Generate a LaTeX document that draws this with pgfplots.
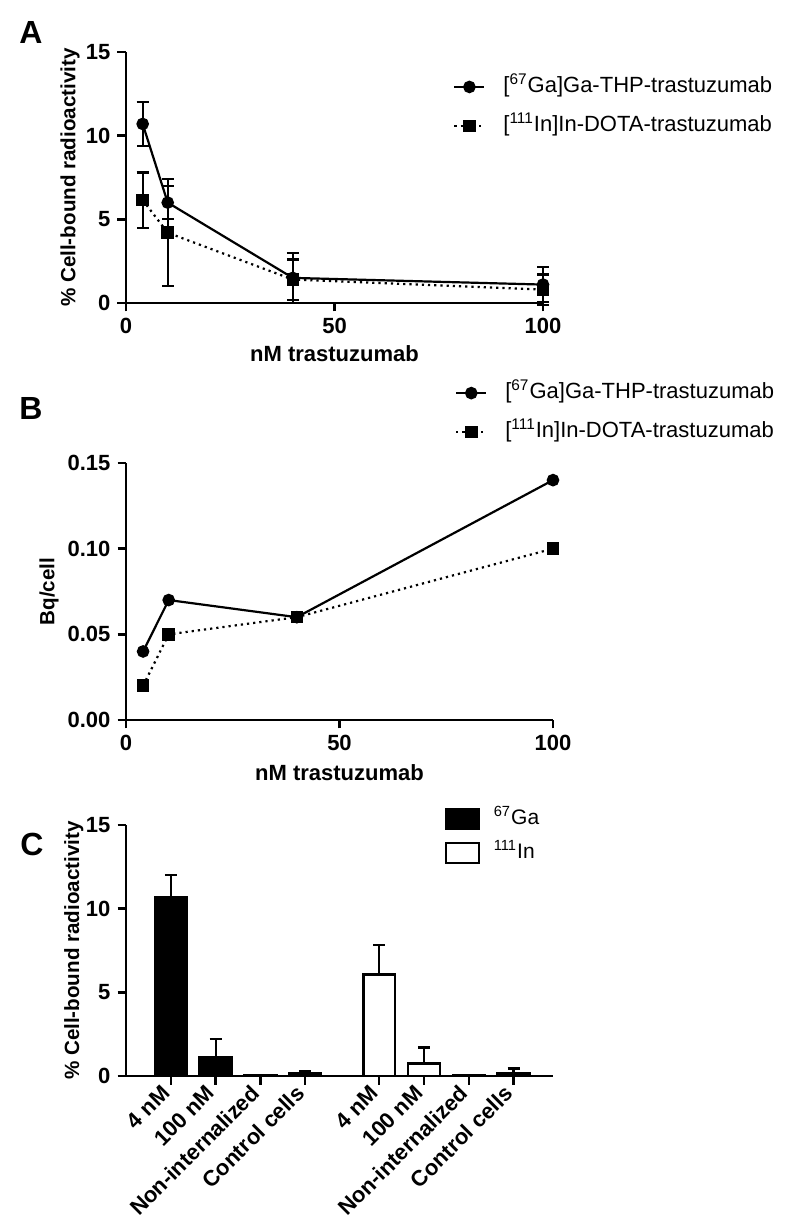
\documentclass[border=0pt]{standalone}
\usepackage{fontspec}
\setmainfont{Liberation Sans}
\usepackage{pgfplots}
\pgfplotsset{compat=1.18}

% Prism-like look shared by the three panels
\pgfplotsset{
  prism/.style={
    scale only axis,
    axis lines=left,
    axis line style={-, line width=1.4pt},
    tick align=outside,
    major tick length=4.25pt,
    tick style={black, line width=1.2pt},
    ticklabel style={font=\fontsize{11}{13}\selectfont\bfseries},
    /pgf/number format/assume math mode=true,
    legend cell align=left,
    legend style={draw=none, fill=none, inner sep=0pt, anchor=west,
      font=\fontsize{11}{13}\selectfont, row sep=7pt,
      nodes={inner sep=1pt, text height=8pt, text depth=2.5pt}},
    clip=false,
  },
  xlab/.style={every axis x label/.style={at={(axis description cs:0.5,#1)}, anchor=center,
      font=\fontsize{11}{13}\selectfont\bfseries}},
  ylab/.style={every axis y label/.style={at={(axis description cs:#1,0.5)}, rotate=90, anchor=center,
      font=\fontsize{10.3}{12}\selectfont\bfseries}},
  lineimg/.style={legend image code/.code={
      \draw[mark repeat=2,mark phase=2,##1] plot coordinates {(0pt,0pt) (7.5pt,0pt) (15pt,0pt)};
      \path[draw=none,fill=none] (0pt,0pt) rectangle (23.5pt,0.1pt);}},
  barimg/.style={legend image code/.code={
      \draw[##1, line width=1.3pt] (0pt,-5pt) rectangle (16.5pt,5pt);
      \path[draw=none,fill=none] (0pt,0pt) rectangle (23pt,0.1pt);}},
  ga/.style={black, line width=1.1pt, mark=*, mark size=2.6pt, mark options={solid}, lineimg},
  in/.style={black, line width=1.1pt, dotted, mark=square*, mark size=2.6pt, mark options={solid}, lineimg},
  ebar/.style={error bars/.cd, y dir=#1, y explicit,
      error bar style={line width=1.1pt, solid},
      error mark options={rotate=90, mark size=3pt, line width=1.1pt, solid}},
}

\begin{document}
\begin{tikzpicture}

% ---------- A ----------
\begin{axis}[prism, at={(63pt,463.5pt)}, width=208.5pt, height=125.5pt,
  xmin=0, xmax=100, ymin=0, ymax=15,
  xtick={0,50,100}, ytick={0,5,10,15},
  xlabel={nM trastuzumab}, ylabel={\% Cell-bound radioactivity},
  xlab=-0.2, ylab=-0.134,
  legend style={at={(0.784,0.783)}}]
\addplot[ga, ebar=both] coordinates {
  (4,10.7) +- (0,1.3) (10,6.0) +- (0,1.0) (40,1.5) +- (0,1.5) (100,1.1) +- (0,1.05)};
\addlegendentry{[\textsuperscript{67}Ga]Ga-THP-trastuzumab}
\addplot[in, ebar=both] coordinates {
  (4,6.15) +- (0,1.65) (10,4.2) +- (0,3.2) (40,1.4) +- (0,1.2) (100,0.8) +- (0,0.9)};
\addlegendentry{[\textsuperscript{111}In]In-DOTA-trastuzumab}
\end{axis}

% ---------- B ----------
\begin{axis}[prism, at={(63pt,255pt)}, width=213.5pt, height=128.5pt,
  xmin=0, xmax=100, ymin=0, ymax=0.15,
  xtick={0,50,100}, ytick={0,0.05,0.10,0.15},
  scaled y ticks=false,
  yticklabel style={/pgf/number format/.cd, fixed, fixed zerofill, precision=2},
  xlabel={nM trastuzumab}, ylabel={Bq/cell},
  xlab=-0.206, ylab=-0.18,
  legend style={at={(0.770,1.196)}}]
\addplot[ga] coordinates {(4,0.04) (10,0.07) (40,0.06) (100,0.14)};
\addlegendentry{[\textsuperscript{67}Ga]Ga-THP-trastuzumab}
\addplot[in] coordinates {(4,0.02) (10,0.05) (40,0.06) (100,0.10)};
\addlegendentry{[\textsuperscript{111}In]In-DOTA-trastuzumab}
\end{axis}

% ---------- C ----------
\begin{axis}[prism, at={(63pt,77pt)}, width=213.5pt, height=125.5pt,
  xmin=0, xmax=9.53, ymin=0, ymax=15,
  ytick={0,5,10,15},
  xtick={1,2,3,4,5.65,6.65,7.65,8.65},
  xticklabels={4 nM,100 nM,Non-internalized,Control cells,4 nM,100 nM,Non-internalized,Control cells},
  xticklabel style={rotate=45, anchor=east},
  ylabel={\% Cell-bound radioactivity}, ylab=-0.122,
  legend style={at={(0.745,0.956)}, row sep=4.5pt, font=\fontsize{10.5}{12}\selectfont}]
\addplot[ybar, bar width=0.71, bar shift=0pt, fill=black, draw=black, line width=1.3pt,
  barimg, ebar=plus] coordinates {
  (1,10.7) +- (0,1.3) (2,1.1) +- (0,1.1) (3,0.05) +- (0,0.02) (4,0.15) +- (0,0.12)};
\addlegendentry{\textsuperscript{67}Ga}
\addplot[ybar, bar width=0.71, bar shift=0pt, fill=white, draw=black, line width=1.3pt,
  barimg, ebar=plus] coordinates {
  (5.65,6.05) +- (0,1.8) (6.65,0.75) +- (0,0.95) (7.65,0.02) +- (0,0.01) (8.65,0.15) +- (0,0.3)};
\addlegendentry{\textsuperscript{111}In}
\end{axis}

% panel letters
\node[font=\fontsize{16}{18}\selectfont\bfseries] at (15.5pt,598.5pt) {A};
\node[font=\fontsize{16}{18}\selectfont\bfseries] at (15.5pt,410.5pt) {B};
\node[font=\fontsize{16}{18}\selectfont\bfseries] at (16pt,193pt) {C};

\pgfresetboundingbox
\path (0pt,0pt) rectangle (400pt,615pt);
\end{tikzpicture}
\end{document}
